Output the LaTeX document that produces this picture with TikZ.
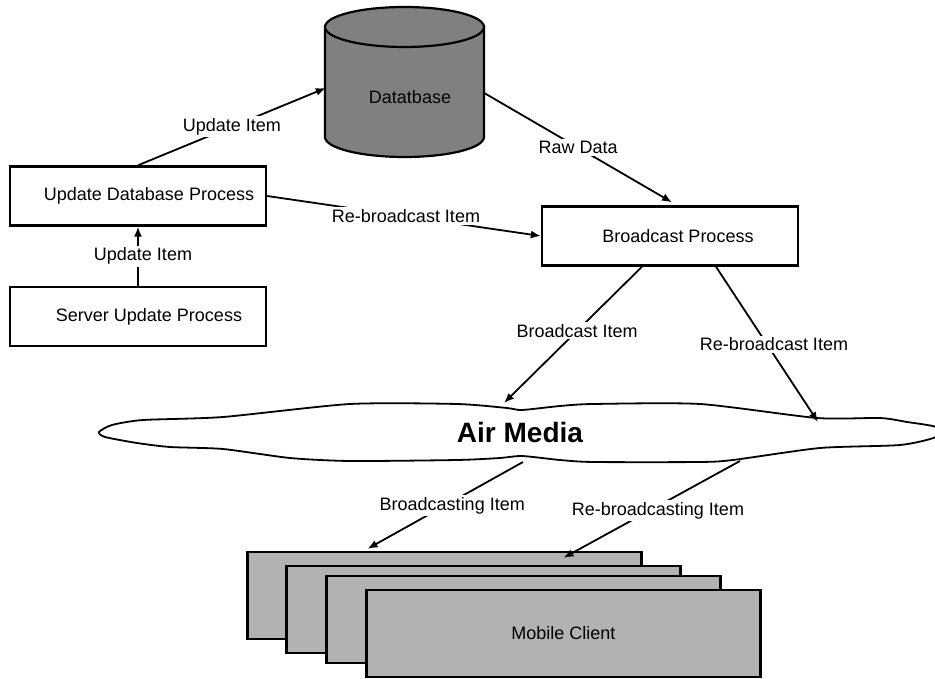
\documentclass[tikz,border=0pt]{standalone}
\usepackage{fontspec}
\setmainfont{Liberation Sans}
\usetikzlibrary{positioning,calc,arrows.meta}

\definecolor{dbgray}{gray}{0.5}
\definecolor{clientgray}{gray}{0.7}

\begin{document}
\begin{tikzpicture}[x=1pt,y=-1pt,>={Latex[length=10pt,width=8pt]},
  font=\fontsize{18}{21}\selectfont,
  proc/.style={draw,line width=2.4pt,minimum width=256pt,minimum height=59pt,inner sep=0pt},
  client/.style={draw,line width=2.4pt,fill=clientgray,minimum width=394pt,minimum height=87pt},
  lbl/.style={fill=white,inner sep=2pt},
  flow/.style={->,line width=1.8pt}]
  \useasboundingbox (0,0) rectangle (935,679);
  \clip (0,0) rectangle (935,679);

  \draw[line width=2.2pt,fill=dbgray] (325,27) -- (325,137)
    arc[start angle=180,end angle=0,x radius=79.5,y radius=20] -- (484,27);
  \draw[line width=2.2pt,fill=dbgray] (404.5,27) ellipse[x radius=79.5,y radius=20];
  \node[minimum width=159pt,minimum height=150pt,inner sep=0pt,
        label={[xshift=5.5pt,yshift=-15pt]center:Datatbase}] (db) at (404.5,82) {};

  \node[proc,label={[xshift=11pt]center:Update Database Process}] (upd) at (138,196) {};
  \node[proc,label={[xshift=11pt]center:Server Update Process}] (srv) [below=59pt of upd] {};
  \node[proc,label={[xshift=8pt]center:Broadcast Process}] (bc) at (670,236) {};

  \draw[line width=1.8pt,fill=white] plot[smooth cycle,tension=0.4] coordinates {
    (99,432) (112,425) (143,420) (223,417) (350,404) (457,404) (507,408) (522,410)
    (560,406) (593,404) (700,404) (817,418) (880,418) (907,422) (936,427)
    (936,437) (900,445) (820,448) (733,460) (700,462) (593,462) (560,460) (522,456)
    (500,458) (457,460) (350,461) (290,458) (223,449) (170,447) (137,443) (105,437)};
  \node[font=\fontsize{28}{32}\selectfont\bfseries] (air) at (520,432) {Air Media};

  \node[client] (mc_1) at (444.5,595.5) {};
  \node[client] (mc_2) at ($(mc_1)+(39,14)$) {};
  \node[client] (mc_3) at ($(mc_2)+(40,10)$) {};
  \node[client] (mc_4) at ($(mc_3)+(40,14)$) {Mobile Client};

  \draw[flow] (upd.north) -- node[lbl] {Update Item} ($(db.west)+(1,6)$);
  \draw[flow] (srv.north) -- node[lbl,xshift=5pt] {Update Item} (upd.south);
  \draw[flow] (upd.east) -- node[lbl,xshift=2pt] {Re-broadcast Item} (bc.west);
  \draw[flow] ($(db.east)+(0,11)$) -- node[lbl] {Raw Data} ($(bc.north)+(2,-3)$);
  \draw[flow] ($(bc.south)+(-28,0)$) -- node[lbl,pos=0.47] {Broadcast Item} ($(air)+(-16,-29)$);
  \draw[flow] ($(bc.south)+(46,0)$) -- node[lbl,pos=0.5,xshift=7pt] {Re-broadcast Item} ($(air)+(298,-10)$);
  \draw[flow] ($(air)+(3,30)$) -- node[lbl,pos=0.5,xshift=7pt] {Broadcasting Item} ($(mc_1.north)+(-77,-2)$);
  \draw[flow] ($(air)+(220,29)$) -- node[lbl,pos=0.51,xshift=8pt] {Re-broadcasting Item} ($(mc_1.north)+(119,7)$);
\end{tikzpicture}
\end{document}
